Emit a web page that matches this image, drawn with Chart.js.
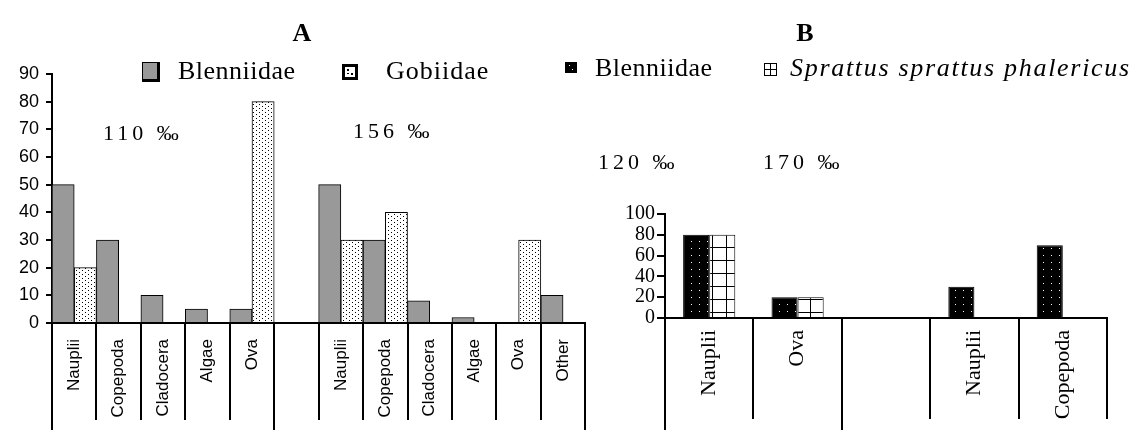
<!DOCTYPE html>
<html><head><meta charset="utf-8">
<script src="https://cdn.jsdelivr.net/npm/chart.js@4.4.1/dist/chart.umd.min.js"></script>
<style>
body{margin:0;background:#fff;}
#wrap{position:relative;width:1137px;height:430px;overflow:hidden;background:#fff;}
canvas.c{position:absolute;top:0;}
.t{position:absolute;white-space:nowrap;font-family:'Liberation Serif','Times New Roman',serif;color:#000;line-height:1;}
.sw{position:absolute;}
</style></head><body>
<div id="wrap">
<canvas id="cA" class="c" style="left:0;width:600px;height:430px" width="600" height="430"></canvas>
<canvas id="cB" class="c" style="left:600px;width:537px;height:430px" width="537" height="430"></canvas>

<div class="t" style="left:302px;top:20px;font-size:26px;font-weight:bold;transform:translateX(-50%)">A</div>
<div class="t" style="left:805px;top:20px;font-size:26px;font-weight:bold;transform:translateX(-50%)">B</div>

<canvas id="swA1" class="sw" width="18" height="20" style="left:142px;top:62px"></canvas>
<div class="t" style="left:178px;top:58px;font-size:26px;letter-spacing:0.5px">Blenniidae</div>
<canvas id="swA2" class="sw" width="16" height="16" style="left:342px;top:64px"></canvas>
<div class="t" style="left:386px;top:58px;font-size:26px;letter-spacing:1px">Gobiidae</div>

<canvas id="swB1" class="sw" width="12" height="11" style="left:565px;top:62px"></canvas>
<div class="t" style="left:595px;top:55px;font-size:26px;letter-spacing:0.5px">Blenniidae</div>
<canvas id="swB2" class="sw" width="13" height="13" style="left:764px;top:63px"></canvas>
<div class="t" style="left:790px;top:55px;font-size:26px;font-style:italic;letter-spacing:1.7px">Sprattus sprattus phalericus</div>

<div class="t" style="left:103px;top:122px;font-size:22px;letter-spacing:4px">110 ‰</div>
<div class="t" style="left:353px;top:120px;font-size:22px;letter-spacing:4px">156 ‰</div>
<div class="t" style="left:598px;top:151px;font-size:22px;letter-spacing:4px">120 ‰</div>
<div class="t" style="left:763px;top:151px;font-size:22px;letter-spacing:4px">170 ‰</div>
</div>
<script>
// ---- data ----
const categoriesA = ['Nauplii','Copepoda','Cladocera','Algae','Ova','','Nauplii','Copepoda','Cladocera','Algae','Ova','Other'];
const blenniidaeA = [50,30,10,5,5,null,50,30,8,2,0,10];
const gobiidaeA   = [20,0,0,0,80,null,30,40,0,0,30,0];
const ticksA = {min:0, max:90, step:10};

const categoriesB = ['Nauplii','Ova','','Nauplii','Copepoda'];
const blenniidaeB = [80,20,null,30,70];
const sprattusB   = [80,20,null,0,0];
const ticksB = {min:0, max:100, step:20};

// ---- patterns ----
function tile(w,h,bg,fg,dots){
  const c=document.createElement('canvas');c.width=w;c.height=h;
  const x=c.getContext('2d');x.fillStyle=bg;x.fillRect(0,0,w,h);x.fillStyle=fg;
  (dots||[]).forEach(d=>x.fillRect(d[0],d[1],d[2]||1,d[3]||1));
  return c;
}
const ctxA=document.getElementById('cA').getContext('2d');
const ctxB=document.getElementById('cB').getContext('2d');
const dotWhiteTile = tile(6,4,'#fff','#000',[[1,0],[4,2]]);
const blackDotTile = tile(8,7,'#000','#fff',[[3,3]]);
const gridTile = tile(14,13,'#fff','#000',[[0,0,1,13],[0,0,14,1]]);
const patGob = ctxA.createPattern(dotWhiteTile,'repeat');
const patBlenB = ctxB.createPattern(blackDotTile,'repeat');
const patSpr = ctxB.createPattern(gridTile,'repeat');

// ---- legend swatches ----
(function(){
  let x=document.getElementById('swA1').getContext('2d');
  x.fillStyle='#000';x.fillRect(0,0,18,20);x.fillStyle='#999';x.fillRect(1,1,14,16);
  x=document.getElementById('swA2').getContext('2d');
  x.fillStyle='#000';x.fillRect(0,0,16,16);x.fillStyle='#fff';x.fillRect(3,3,10,10);
  x.fillStyle='#000';x.fillRect(5,5,2,2);x.fillRect(9,9,2,2);x.fillRect(5,9,2,1);
  x=document.getElementById('swB1').getContext('2d');
  x.fillStyle='#000';x.fillRect(0,0,12,11);x.fillStyle='#fff';x.fillRect(4,3,1,1);x.fillRect(7,7,1,1);
  x=document.getElementById('swB2').getContext('2d');
  x.fillStyle='#fff';x.fillRect(0,0,13,13);x.strokeStyle='#000';x.lineWidth=1;
  x.strokeRect(0.5,0.5,12,12);x.beginPath();x.moveTo(6.5,0);x.lineTo(6.5,13);x.moveTo(0,6.5);x.lineTo(13,6.5);x.stroke();
})();

// ---- divider plugin (category boundaries, drawn from the x scale) ----
const dividers = {id:'dividers', afterDraw(chart,args,opts){
  const s=chart.scales.x, n=chart.data.labels.length, w=(s.right-s.left)/n, ctx=chart.ctx;
  ctx.save();ctx.strokeStyle='#000';ctx.lineWidth=2;
  for(let i=0;i<=n;i++){
    const px=Math.round(s.left+i*w);
    const end=opts.long.includes(i)?chart.height:opts.shortEnd;
    ctx.beginPath();ctx.moveTo(px,s.top);ctx.lineTo(px,end);ctx.stroke();
  }
  ctx.restore();
}};

Chart.defaults.color='#000';

new Chart(ctxA,{
  type:'bar',
  data:{labels:categoriesA,datasets:[
    {label:'Blenniidae',data:blenniidaeA,backgroundColor:'#999999',borderColor:'#000',borderWidth:1},
    {label:'Gobiidae',data:gobiidaeA,backgroundColor:patGob,borderColor:'#000',borderWidth:1}
  ]},
  options:{
    responsive:false,animation:false,
    layout:{padding:{top:74,right:13,left:0,bottom:0}},
    datasets:{bar:{categoryPercentage:1,barPercentage:1}},
    plugins:{legend:{display:false},tooltip:{enabled:false},dividers:{long:[0,5,12],shortEnd:420}},
    scales:{
      x:{grid:{display:true,drawOnChartArea:false,drawTicks:false},border:{display:true,color:'#000',width:2},
         ticks:{autoSkip:false,minRotation:90,maxRotation:90,padding:16,color:'#000',font:{family:'Liberation Sans',size:17}},
         afterFit:s=>{s.height=107;}},
      y:{min:ticksA.min,max:ticksA.max,
         ticks:{stepSize:ticksA.step,autoSkip:false,color:'#000',padding:7,font:{family:'Liberation Sans',size:18}},
         grid:{drawOnChartArea:false,drawTicks:true,tickLength:6,color:'#000',lineWidth:2},
         border:{color:'#000',width:2},afterFit:s=>{s.width=52;}}
    }
  },
  plugins:[dividers]
});

new Chart(ctxB,{
  type:'bar',
  data:{labels:categoriesB,datasets:[
    {label:'Blenniidae',data:blenniidaeB,backgroundColor:patBlenB,borderColor:'#000',borderWidth:1},
    {label:'Sprattus sprattus phalericus',data:sprattusB,backgroundColor:patSpr,borderColor:'#000',borderWidth:1}
  ]},
  options:{
    responsive:false,animation:false,
    layout:{padding:{top:214,right:30,left:0,bottom:0}},
    datasets:{bar:{categoryPercentage:0.59,barPercentage:1}},
    plugins:{legend:{display:false},tooltip:{enabled:false},dividers:{long:[0,2],shortEnd:419}},
    scales:{
      x:{grid:{display:true,drawOnChartArea:false,drawTicks:false},border:{display:true,color:'#000',width:2},
         ticks:{autoSkip:false,minRotation:90,maxRotation:90,padding:12,color:'#000',font:{family:'Liberation Serif',size:22}},
         afterFit:s=>{s.height=112;}},
      y:{min:ticksB.min,max:ticksB.max,
         ticks:{stepSize:ticksB.step,autoSkip:false,color:'#000',padding:2,font:{family:'Liberation Serif',size:20}},
         grid:{drawOnChartArea:false,drawTicks:true,tickLength:8,color:'#000',lineWidth:2},
         border:{color:'#000',width:2},afterFit:s=>{s.width=65;}}
    }
  },
  plugins:[dividers]
});
</script>
</body></html>
